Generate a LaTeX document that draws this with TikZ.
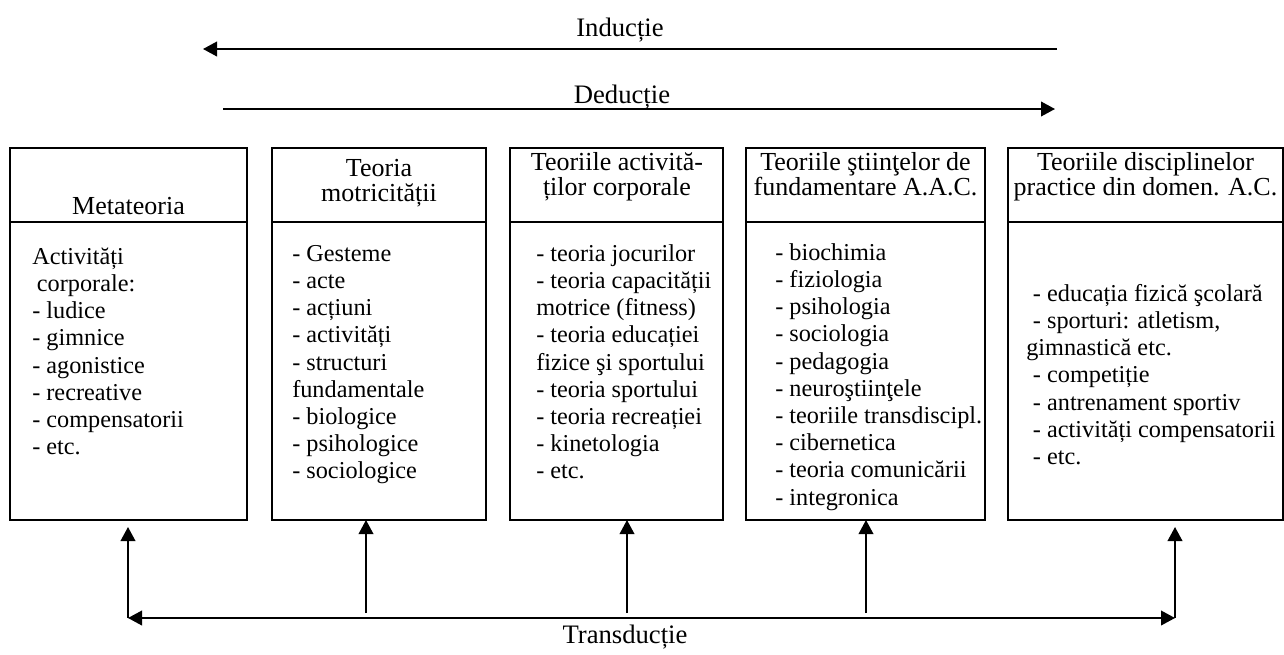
\documentclass[tikz,border=0pt]{standalone}
\usepackage{fontspec}
\setmainfont{Liberation Serif}
\usetikzlibrary{arrows.meta,calc}
\newcommand\fst{\rule{0pt}{15pt}}
\newcommand\hdfont{\fontsize{19.5pt}{19pt}\selectfont}
\begin{document}
\begin{tikzpicture}[x=0.75pt,y=-0.75pt,
  boxst/.style={draw, line width=1.3pt, inner sep=0pt, outer sep=0pt, anchor=north west},
  txt/.style={font=\fontsize{18.2pt}{20.4pt}\selectfont, inner sep=0pt, align=left, anchor=north west},
  hd/.style={font=\hdfont, inner sep=0pt, align=center, anchor=north},
  lbl/.style={font=\fontsize{20pt}{22pt}\selectfont, inner sep=0pt},
  arr/.style={line width=1.3pt, -{Triangle[length=10.5pt,width=11pt]}},
  arrthin/.style={line width=1.1pt, -{Triangle[length=10.5pt,width=11pt]}},
  arrboth/.style={line width=1.3pt, {Triangle[length=10.5pt,width=11pt]}-{Triangle[length=10.5pt,width=11pt]}}]
\useasboundingbox (0,0) rectangle (1284,654);

% top arrows
\coordinate (iR) at (1057,49);
\coordinate (iL) at (203,49);
\draw[arr] (iR) -- (iL);
\node[lbl] (ind) at (620,30) {Inducție};
\coordinate (dL) at (223,109);
\coordinate (dR) at (1055,109);
\draw[arr] (dL) -- (dR);
\node[lbl] (ded) at (622,97) {Deducție};

% boxes
\node[boxst, minimum width=177.75pt, minimum height=55.5pt] (h1) at (10,148) {};
\node[boxst, minimum width=177.75pt, minimum height=223.5pt] (b1) at (h1.south west) {};
\node[boxst, minimum width=160.5pt, minimum height=55.5pt] (h2) at (272,148) {};
\node[boxst, minimum width=160.5pt, minimum height=223.5pt] (b2) at (h2.south west) {};
\node[boxst, minimum width=159.75pt, minimum height=55.5pt] (h3) at (510,148) {};
\node[boxst, minimum width=159.75pt, minimum height=223.5pt] (b3) at (h3.south west) {};
\node[boxst, minimum width=179.25pt, minimum height=55.5pt] (h4) at (746,148) {};
\node[boxst, minimum width=179.25pt, minimum height=223.5pt] (b4) at (h4.south west) {};
\node[boxst, minimum width=206.25pt, minimum height=55.5pt] (h5) at (1008,148) {};
\node[boxst, minimum width=206.25pt, minimum height=223.5pt] (b5) at (h5.south west) {};

% header texts
\node[hd] (ht1) at (128.5,194) {\fst Metateoria};
\node[hd] (ht2) at (379,156) {\fst Teoria\\motricității};
\node[hd] (ht3) at (617,150) {\fst Teoriile activită-\\ților corporale};
\node[hd] (ht4) at (865.5,150) {\fst Teoriile ştiinţelor de\\fundamentare A.A.C.};
\node[hd] (ht5) at (1145.5,150) {\fst Teoriile disciplinelor\\practice din domen. A.C.};

% body texts
\node[txt] (bt1) at (32,244) {\fst Activități\\\hspace*{3.5pt}corporale:\\- ludice\\- gimnice\\- agonistice\\- recreative\\- compensatorii\\- etc.};
\node[txt] (bt2) at (292,241) {\fst - Gesteme\\- acte\\- acțiuni\\- activități\\- structuri\\fundamentale\\- biologice\\- psihologice\\- sociologice};
\node[txt] (bt3) at (536,241) {\fst - teoria jocurilor\\- teoria capacității\\motrice (fitness)\\- teoria educației\\fizice şi sportului\\- teoria sportului\\- teoria recreației\\- kinetologia\\- etc.};
\node[txt] (bt4) at (775,240) {\fst - biochimia\\- fiziologia\\- psihologia\\- sociologia\\- pedagogia\\- neuroştiinţele\\- teoriile transdiscipl.\\- cibernetica\\- teoria comunicării\\- integronica};
\node[txt] (bt5) at (1026,281) {\fst\hspace*{5pt}- educația fizică şcolară\\\hspace*{5pt}- sporturi: atletism,\\gimnastică etc.\\\hspace*{5pt}- competiție\\\hspace*{5pt}- antrenament sportiv\\\hspace*{5pt}- activități compensatorii\\\hspace*{5pt}- etc.};

% bottom connectors
\coordinate (hL) at (128,618);
\coordinate (hR) at (1175,618);
\draw[arrboth] (hL) -- (hR);
\coordinate (vL) at (128,527);
\coordinate (vR) at (1175,527);
\draw[arr] (hL) -- (vL);
\draw[arr] (hR) -- (vR);
\coordinate (m2) at (366,613);
\coordinate (m3) at (627,613);
\coordinate (m4) at (866,613);
\draw[arrthin] (m2) -- (m2 |- b2.south);
\draw[arrthin] (m3) -- (m3 |- b3.south);
\draw[arrthin] (m4) -- (m4 |- b4.south);
\node[lbl] (tr) at (625,637) {Transducție};
\end{tikzpicture}
\end{document}
